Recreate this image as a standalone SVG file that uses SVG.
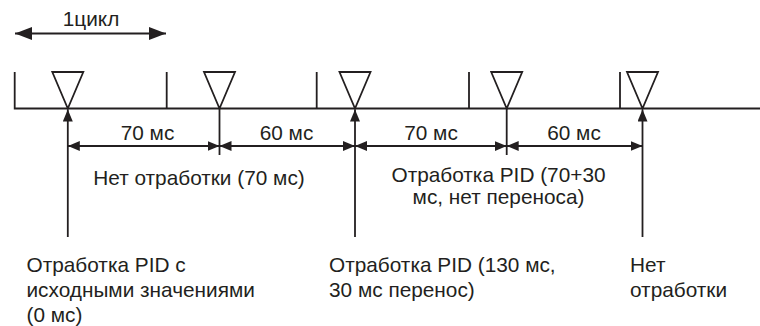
<svg xmlns="http://www.w3.org/2000/svg" width="760" height="326" viewBox="0 0 760 326">
  <style>
    .ln { stroke: #231f20; stroke-width: 1.8; fill: none; }
    .tri { stroke: #231f20; stroke-width: 1.8; fill: #ffffff; stroke-linejoin: miter; }
    .t { font-family: "Liberation Sans", Arial, sans-serif; font-size: 20.8px; fill: #231f20; }
    .m { text-anchor: middle; }
  </style>
  <defs>
    <marker id="ah" markerUnits="userSpaceOnUse" markerWidth="12" markerHeight="10" refX="12" refY="5" orient="auto-start-reverse" viewBox="0 0 12 10">
      <path d="M0,0 L12,5 L0,10 z" fill="#231f20"/>
    </marker>
    <marker id="big" markerUnits="userSpaceOnUse" markerWidth="17" markerHeight="13" refX="17" refY="6.5" orient="auto-start-reverse" viewBox="0 0 17 13">
      <path d="M0,0 L17,6.5 L0,13 z" fill="#231f20"/>
    </marker>
  </defs>

  <g id="timeline">
    <path class="ln" d="M14.7,72 V108.5 H760"/>
    <path class="ln" d="M166.7,72 V108.5 M316.7,72 V108.5 M469,72 V108.5 M620,72 V108.5"/>
  </g>

  <g id="cycle">
    <line class="ln" x1="15" y1="33.5" x2="166" y2="33.5" marker-start="url(#big)" marker-end="url(#big)"/>
    <text class="t m" x="91" y="26">1цикл</text>
  </g>

  <g id="tick1"><path class="tri" d="M52.3,72 H83.3 L67.8,108.5 z"/></g>
  <g id="tick2"><path class="tri" d="M204,72 H235 L219.5,108.5 z"/></g>
  <g id="tick3"><path class="tri" d="M339.5,72 H370.5 L355,108.5 z"/></g>
  <g id="tick4"><path class="tri" d="M491.2,72 H522.2 L506.7,108.5 z"/></g>
  <g id="tick5"><path class="tri" d="M627,72 H658 L642.5,108.5 z"/></g>

  <g id="connectors">
    <line class="ln" x1="67.8" y1="237" x2="67.8" y2="109.5" marker-end="url(#ah)"/>
    <line class="ln" x1="355" y1="237" x2="355" y2="109.5" marker-end="url(#ah)"/>
    <line class="ln" x1="642.5" y1="237" x2="642.5" y2="109.5" marker-end="url(#ah)"/>
    <line class="ln" x1="219.5" y1="108.5" x2="219.5" y2="155"/>
    <line class="ln" x1="506.7" y1="108.5" x2="506.7" y2="155"/>
    <line class="ln" x1="67.8" y1="146" x2="219.5" y2="146" marker-start="url(#ah)" marker-end="url(#ah)"/>
    <line class="ln" x1="219.5" y1="146" x2="355" y2="146" marker-start="url(#ah)" marker-end="url(#ah)"/>
    <line class="ln" x1="355" y1="146" x2="506.7" y2="146" marker-start="url(#ah)" marker-end="url(#ah)"/>
    <line class="ln" x1="506.7" y1="146" x2="642.5" y2="146" marker-start="url(#ah)" marker-end="url(#ah)"/>
  </g>

  <g id="labels">
    <text class="t m" x="147.5" y="139.5">70 мс</text>
    <text class="t m" x="286.5" y="139.5">60 мс</text>
    <text class="t m" x="431" y="139.5">70 мс</text>
    <text class="t m" x="574" y="139.5">60 мс</text>
    <text class="t m" x="199" y="184.5">Нет отработки (70 мс)</text>
    <text class="t m" x="498.5" y="182">Отработка PID (70+30</text>
    <text class="t m" x="498.5" y="204">мс, нет переноса)</text>
  </g>

  <g id="note1">
    <text class="t" x="26.5" y="272">Отработка PID с</text>
    <text class="t" x="26.5" y="297">исходными значениями</text>
    <text class="t" x="26.5" y="322">(0 мс)</text>
  </g>
  <g id="note2">
    <text class="t" x="329" y="272">Отработка PID (130 мс,</text>
    <text class="t" x="329" y="297">30 мс перенос)</text>
  </g>
  <g id="note3">
    <text class="t" x="630" y="272">Нет</text>
    <text class="t" x="630" y="297">отработки</text>
  </g>
</svg>
